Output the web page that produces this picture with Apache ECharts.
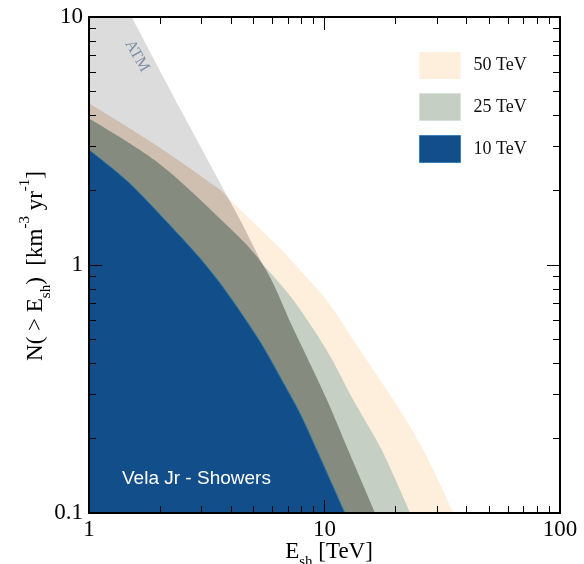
<!DOCTYPE html>
<html>
<head>
<meta charset="utf-8">
<script src="https://cdn.jsdelivr.net/npm/echarts@6.0.0/dist/echarts.min.js"></script>
<style>
html,body{margin:0;padding:0;background:#fff;}
#chart{width:584px;height:564px;}
</style>
</head>
<body>
<div id="chart"></div>
<script>
// ---- data (E_sh in TeV, N(>E_sh) in km^-3 yr^-1) ----
const legendLabels = ['50 TeV', '25 TeV', '10 TeV'];

const e50X = [1, 1.87, 3.53, 3.90, 6.58, 7.87, 10.2, 14.15, 19.6, 26.3, 35.2];
const e50Y = [4.49, 3.10, 2.04, 1.86, 1.15, 0.955, 0.723, 0.454, 0.2855, 0.1795, 0.1];

const e25X = [1, 1.90, 3.53, 5.43, 7.37, 10.2, 13.25, 17.5, 23.1];
const e25Y = [3.90, 2.65, 1.566, 1.014, 0.723, 0.454, 0.2855, 0.1795, 0.1];

const e10X = [1, 1.46, 2.20, 2.96, 3.78, 5.32, 6.58, 7.87, 9.27, 12.2];
const e10Y = [2.91, 2.17, 1.45, 1.064, 0.793, 0.491, 0.344, 0.252, 0.1795, 0.1];

const atmX = [1, 1.518, 2.21, 3.90, 5.43, 7.35, 10.25, 12.6, 16.4];
const atmY = [21.3, 10, 5.08, 1.86, 1.014, 0.557, 0.2855, 0.1795, 0.1];

// where the ATM boundary crosses the 50 TeV and 25 TeV curves
const atmCross50 = 3.90;
const atmCross25 = 5.43;

const xTickValues = [1, 10, 100];
const yTickValues = [0.1, 1, 10];
const xMinorTicks = [2, 3, 4, 5, 6, 7, 8, 9, 20, 30, 40, 50, 60, 70, 80, 90];
const yMinorTicks = [0.2, 0.3, 0.4, 0.5, 0.6, 0.7, 0.8, 0.9, 2, 3, 4, 5, 6, 7, 8, 9];

// ---- build series data ----
const zip = (xs, ys) => xs.map((x, i) => [x, ys[i]]);
const d50 = zip(e50X, e50Y);
const d25 = zip(e25X, e25Y);
const d10 = zip(e10X, e10Y);
const dAtm = zip(atmX, atmY);
const dAtm50 = d50.filter(p => p[0] <= atmCross50).concat(dAtm.filter(p => p[0] > atmCross50));
const dAtm25 = d25.filter(p => p[0] <= atmCross25).concat(dAtm.filter(p => p[0] > atmCross25));

const SERIF = "'Liberation Serif', 'Times New Roman', serif";
const SANS = "'Liberation Sans', Arial, sans-serif";
const SMOOTH = 0.3;

function area(name, data, color, z, line) {
  return {
    name: name, type: 'line', data: data, xAxisIndex: 0, yAxisIndex: 0,
    symbol: 'none', showSymbol: false, silent: true, z: z, color: color,
    smooth: SMOOTH,
    itemStyle: { color: color },
    lineStyle: line || { width: 0, opacity: 0 },
    areaStyle: { color: color, opacity: 1, origin: 'start' },
    clip: true, animation: false
  };
}

const COL50 = '#feeedc', COL25 = '#c5cfc3', COL10 = '#124e8a';
const COLATM = '#dcdcdc', COLATM50 = '#cebfb0', COLATM25 = '#868b80';

const frame = { show: true, onZero: false, lineStyle: { color: '#000', width: 2 } };
const majorTick = { show: true, inside: true, length: 13, lineStyle: { color: '#000', width: 1 } };
const lg = v => Math.log10(v);

function minorAxis(pos, ticks, lo, hi) {
  return {
    type: 'value', position: pos, min: lg(lo), max: lg(hi), z: 10,
    axisLine: { show: false, onZero: false },
    axisTick: { show: true, inside: true, length: 7, customValues: ticks.map(lg), lineStyle: { color: '#000', width: 1 } },
    axisLabel: { show: false }, splitLine: { show: false }
  };
}

const chart = echarts.init(document.getElementById('chart'), null, { renderer: 'canvas' });
chart.setOption({
  animation: false,
  backgroundColor: '#fff',
  grid: { left: 89, right: 24, top: 17, bottom: 51, containLabel: false },
  legend: {
    data: [
      { name: legendLabels[0] },
      { name: legendLabels[1], itemStyle: { borderColor: '#d6e4dc', borderWidth: 1 } },
      { name: legendLabels[2], itemStyle: { borderColor: '#3a7fb5', borderWidth: 1 } }
    ],
    orient: 'vertical', left: 419, top: 52, padding: 0, icon: 'rect',
    itemWidth: 41, itemHeight: 27, itemGap: 14, selectedMode: false,
    textStyle: { fontFamily: SERIF, fontSize: 18, color: '#111', padding: [0, 0, 0, 8] }
  },
  xAxis: [
    { type: 'log', logBase: 10, min: 1, max: 100, splitNumber: 2, position: 'bottom', z: 10,
      axisLine: frame, axisTick: majorTick,
      axisLabel: { margin: 5, fontFamily: SERIF, fontSize: 23, color: '#000' },
      splitLine: { show: false } },
    { type: 'log', logBase: 10, min: 1, max: 100, splitNumber: 2, position: 'top', z: 10,
      axisLine: frame, axisTick: majorTick, axisLabel: { show: false }, splitLine: { show: false } },
    minorAxis('bottom', xMinorTicks, 1, 100),
    minorAxis('top', xMinorTicks, 1, 100)
  ],
  yAxis: [
    { type: 'log', logBase: 10, min: 0.1, max: 10, splitNumber: 2, position: 'left', z: 10,
      axisLine: frame, axisTick: majorTick,
      axisLabel: { margin: 6, fontFamily: SERIF, fontSize: 23, color: '#000' },
      splitLine: { show: false } },
    { type: 'log', logBase: 10, min: 0.1, max: 10, splitNumber: 2, position: 'right', z: 10,
      axisLine: frame, axisTick: majorTick, axisLabel: { show: false }, splitLine: { show: false } },
    minorAxis('left', yMinorTicks, 0.1, 10),
    minorAxis('right', yMinorTicks, 0.1, 10)
  ],
  series: [
    area(legendLabels[0], d50, COL50, 2),
    area('ATM', dAtm, COLATM, 3),
    area('ATM 50', dAtm50, COLATM50, 4),
    area(legendLabels[1], d25, COL25, 5),
    area('ATM 25', dAtm25, COLATM25, 6),
    area(legendLabels[2], d10, COL10, 7, { width: 1, color: '#2375a6' })
  ],
  graphic: [
    { type: 'text', x: 137, y: 56, rotation: -Math.PI / 3, z: 20, silent: true,
      style: { text: 'ATM', fill: '#7d8ea2', font: '16px ' + SERIF, align: 'center', verticalAlign: 'middle' } },
    { type: 'text', x: 122, y: 479, z: 20, silent: true,
      style: { text: 'Vela Jr - Showers', fill: '#ffffff', font: '19px ' + SANS, align: 'left', verticalAlign: 'middle' } },
    { type: 'text', x: 36, y: 266, rotation: Math.PI / 2, z: 20, silent: true,
      style: {
        text: 'N( > E{sub|sh})  [km{sup|-3} yr{sup|-1}]',
        fill: '#000', font: '23px ' + SERIF, align: 'center', verticalAlign: 'middle', lineHeight: 36,
        rich: {
          sub: { fontSize: 15, fontFamily: SERIF, verticalAlign: 'bottom', lineHeight: 15, fill: '#000' },
          sup: { fontSize: 15, fontFamily: SERIF, verticalAlign: 'top', lineHeight: 15, fill: '#000' }
        }
      } },
    { type: 'text', x: 329, y: 552, z: 20, silent: true,
      style: {
        text: 'E{sub|sh} [TeV]',
        fill: '#000', font: '23px ' + SERIF, align: 'center', verticalAlign: 'middle', lineHeight: 36,
        rich: {
          sub: { fontSize: 15, fontFamily: SERIF, verticalAlign: 'bottom', lineHeight: 15, fill: '#000' }
        }
      } }
  ]
});
</script>
</body>
</html>
